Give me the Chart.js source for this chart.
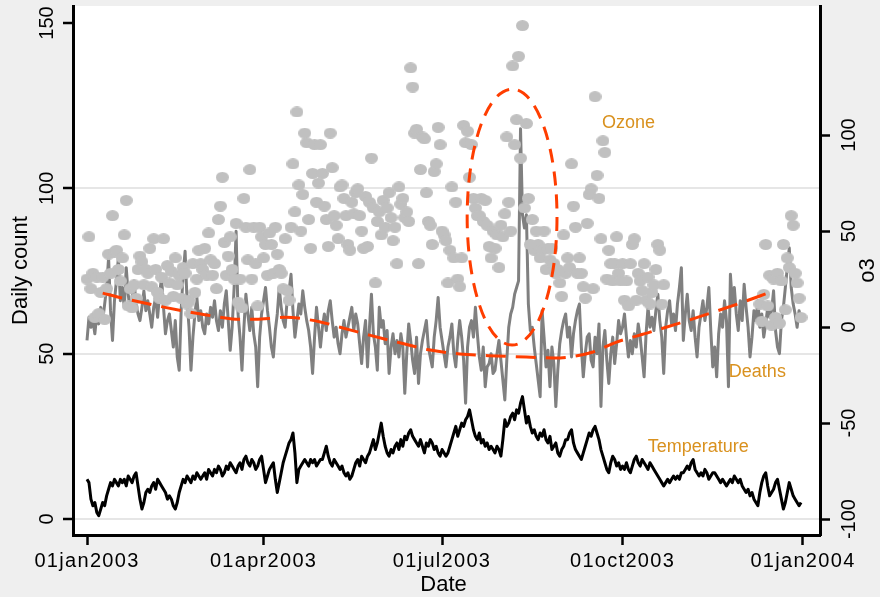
<!DOCTYPE html>
<html><head><meta charset="utf-8">
<script src="https://cdn.jsdelivr.net/npm/chart.js@4.4.1/dist/chart.umd.min.js"></script>
<style>html,body{margin:0;padding:0;background:#efefef;}canvas{display:block;}</style>
</head><body>
<canvas id="c" width="880" height="597"></canvas>
<script>
// ---- axis ticks ----
const tickDays = [0, 90, 181, 273, 365];
const tickLabels = ['01jan2003', '01apr2003', '01jul2003', '01oct2003', '01jan2004'];
const leftTicks = [0, 50, 100, 150];
const rightTicks = [-100, -50, 0, 50, 100];

// ---- daily deaths (day 0 = 01jan2003) ----
const deaths = [
54,61,58,60,56,62,59,64,60,65,70,79,63,54,66,72,79,66,70,64,76,68,63,67,72,65,62,60,64,69,63,
66,62,58,64,67,61,68,73,64,56,60,62,57,52,60,49,45,63,74,81,66,58,45,55,62,67,60,63,
58,56,62,59,64,61,66,60,57,63,58,65,69,60,51,58,70,87,62,55,45,58,68,62,57,64,56,52,40,55,62,
66,70,63,58,52,49,57,62,70,64,60,58,66,69,74,63,55,60,65,62,69,64,60,57,52,44,55,64,58,52,
58,62,57,63,66,60,55,58,53,50,56,60,55,58,61,64,57,62,59,53,47,55,60,46,58,68,56,52,45,64,58,
60,53,57,44,52,56,50,54,49,56,52,38,50,59,54,48,44,55,41,50,54,57,60,52,49,46,55,60,67,58,
54,50,46,52,55,59,50,46,54,60,55,48,35,52,58,60,55,64,56,49,45,52,40,46,47,50,44,45,50,54,48,
42,36,48,58,62,64,68,70,72,118,92,88,92,65,57,58,52,47,42,37,63,55,46,51,40,52,47,34,45,53,57,
60,62,55,58,49,56,60,63,65,52,43,50,55,56,48,46,55,50,59,34,52,57,48,41,50,55,47,53,60,56,
58,62,55,49,54,50,56,52,59,55,49,43,56,64,58,61,57,63,68,60,55,44,58,63,66,59,62,57,65,70,76,
54,62,68,60,57,63,55,49,58,62,66,60,64,70,57,46,52,43,56,62,58,66,60,40,74,65,70,62,57,66,
60,71,64,58,49,55,63,60,66,58,62,55,59,64,61,63,69,57,52,50,60,64,70,76,82,70,65,62,58,63,60
];

// ---- daily temperature ----
const temperature = [
12,11,6,4,5,2,1,3,5,4,7,9,11,10,12,11,10,12,11,12,10,13,12,11,13,14,10,6,3,5,8,
9,8,10,11,9,12,11,10,9,8,6,7,6,4,3,5,8,10,12,11,13,12,11,13,12,14,13,12,
13,14,12,15,14,13,15,14,16,15,13,14,16,15,17,16,15,14,16,17,15,18,19,17,16,18,17,15,16,18,19,
15,11,13,15,16,17,12,8,11,14,17,19,21,23,24,26,20,11,15,16,17,18,17,16,18,17,18,16,17,18,
18,20,22,19,17,16,18,17,16,15,16,14,13,14,12,13,15,17,18,16,19,18,17,19,20,22,24,21,23,26,29,
25,22,20,19,21,20,22,23,21,24,22,25,24,26,27,25,24,23,22,24,22,20,23,22,24,23,21,22,20,19,
21,20,19,20,22,24,26,28,25,27,29,28,30,31,33,30,27,25,24,26,23,24,22,23,21,22,21,20,22,21,19,
24,30,28,29,31,32,30,33,32,35,37,33,29,31,28,26,27,25,24,26,25,27,24,23,25,21,22,23,20,19,21,
22,24,24,26,27,23,21,20,19,18,20,22,24,26,25,27,28,26,24,21,19,17,15,14,17,19,18,16,17,15,
16,15,17,15,14,16,18,19,17,16,18,17,16,15,17,16,15,14,13,12,11,10,11,12,11,12,13,12,13,12,14,
14,15,16,15,17,18,15,14,13,14,13,15,14,12,13,14,14,13,12,11,12,11,10,11,12,11,13,12,11,12,
10,9,8,9,7,8,6,5,4,8,11,13,14,10,7,8,9,11,12,9,6,3,5,8,11,9,7,6,5,4,5
];

// ---- daily ozone (o3, right axis); null = missing ----
const ozone = [
25,47,20,28,5,26,7,18,26,4,20,38,28,58,39,40,30,24,36,48,66,11,20,10,22,15,30,37,34,22,30,
28,41,21,46,30,18,15,26,46,14,32,23,29,16,36,22,27,15,31,28,12,14,7,33,18,25,40,33,
30,41,27,49,35,27,33,20,56,63,78,44,27,37,47,30,25,54,13,25,10,67,52,35,82,25,52,33,11,52,47,
36,43,27,49,43,28,52,38,30,28,20,46,19,14,52,85,60,112,74,50,69,101,96,56,41,80,95,65,75,95,
80,63,56,42,101,83,58,53,46,73,74,67,58,43,40,65,59,70,72,58,50,41,68,42,65,88,62,23,55,60,48,
66,52,62,70,57,45,52,33,73,64,67,57,60,55,135,125,101,103,33,82,99,98,70,55,53,43,81,85,104,95,
50,48,45,23,40,73,36,65,25,21,36,105,96,102,78,95,67,62,58,58,67,55,66,53,42,36,50,41,48,31,53,
47,59,99,65,50,136,95,108,141,88,157,62,106,67,43,56,40,50,43,36,40,50,30,41,35,41,33,28,30,23,16,
48,28,36,31,85,63,52,28,36,28,21,15,54,69,72,20,120,79,67,46,97,91,25,40,33,24,33,47,28,24,
33,14,24,11,33,43,46,14,28,24,19,33,14,26,12,18,22,30,43,40,12,22,null,null,null,null,null,null,null,null,null,
null,null,null,null,null,null,null,null,null,null,null,null,null,null,null,null,null,null,null,null,null,null,null,null,null,null,null,null,null,null,
null,null,null,null,null,null,null,null,null,12,3,17,43,11,27,1,25,5,28,2,24,43,9,36,31,58,53,28,23,15,5
];

// ---- smooth trend of deaths (red dashed) ----
const trendDays = [8, 18, 34, 52, 64, 74, 86, 96, 101, 119, 129, 144, 160, 175, 190, 209, 224, 238, 246, 258, 270, 287, 304, 318, 333, 347];
const trendVals = [68.3, 66.8, 64.7, 62.6, 61.4, 60.5, 60.4, 60.8, 61.0, 59.6, 58.0, 55.6, 53.2, 51.1, 49.9, 49.3, 49.0, 48.7, 49.0, 50.5, 53.5, 56.5, 59.6, 62.3, 65.3, 68.3];

// ---- highlighted heat-wave ellipse (day range, daily-count range) ----
const ellipseDays = [193.8, 239.6];
const ellipseVals = [52.6, 130.0];

// ---- text notes ----
const noteText = ['Ozone', 'Deaths', 'Temperature'];
const noteDays = [262.5, 327.2, 285.9];
const noteVals = [118.2, 42.9, 20.3];

const FONT = "'Liberation Sans', Arial, Helvetica, sans-serif";
const RED = '#ff3d00';
const ORANGE = '#d9911e';

const dot = document.createElement('canvas');
dot.width = 13; dot.height = 11;
(function(){ const g = dot.getContext('2d'); g.fillStyle = '#c0c0c0'; g.beginPath(); g.ellipse(6.5,5.5,6.5,5.5,0,0,Math.PI*2); g.fill(); })();

const decor = {
  id: 'decor',
  beforeDraw(chart) {
    const {ctx, chartArea: a} = chart;
    ctx.save();
    ctx.fillStyle = '#efefef'; ctx.fillRect(0, 0, chart.width, chart.height);
    ctx.fillStyle = '#ffffff'; ctx.fillRect(a.left, a.top, a.right - a.left, a.bottom - a.top);
    ctx.restore();
    ctx.letterSpacing = '1.3px';   // wider Stata-like spacing for the date tick labels
  },
  afterDatasetsDraw(chart) {
    const {ctx, scales: {x, y}} = chart;
    const x0 = x.getPixelForValue(ellipseDays[0]), x1 = x.getPixelForValue(ellipseDays[1]);
    const y0 = y.getPixelForValue(ellipseVals[0]), y1 = y.getPixelForValue(ellipseVals[1]);
    ctx.save();
    ctx.strokeStyle = RED; ctx.lineWidth = 3; ctx.setLineDash([14, 9]);
    ctx.beginPath();
    ctx.ellipse((x0 + x1) / 2, (y0 + y1) / 2, Math.abs(x1 - x0) / 2, Math.abs(y1 - y0) / 2, 0, 0, Math.PI * 2);
    ctx.stroke();
    ctx.restore();
    ctx.save();
    ctx.letterSpacing = '0px';
    ctx.fillStyle = ORANGE; ctx.font = '18px ' + FONT; ctx.textAlign = 'left'; ctx.textBaseline = 'alphabetic';
    noteText.forEach((t, i) => ctx.fillText(t, x.getPixelForValue(noteDays[i]), y.getPixelForValue(noteVals[i])));
    ctx.restore();
  },
  afterDraw(chart) {
    const {ctx, chartArea: a, scales: {y, y2}} = chart;
    ctx.letterSpacing = '0px';
    const rot = (txt, px, py, size) => {
      ctx.save(); ctx.translate(px, py); ctx.rotate(-Math.PI / 2);
      ctx.font = size + 'px ' + FONT; ctx.fillStyle = '#000';
      ctx.textAlign = 'center'; ctx.textBaseline = 'alphabetic';
      ctx.fillText(txt, 0, 0); ctx.restore();
    };
    leftTicks.forEach(v => rot(String(v), 53, y.getPixelForValue(v), 20));
    rightTicks.forEach(v => rot(String(v), 855, y2.getPixelForValue(v), 20));
    const midY = (a.top + a.bottom) / 2;
    rot('Daily count', 27, midY, 22);
    rot('o3', 874, midY, 22);
    ctx.save(); ctx.font = '22px ' + FONT; ctx.fillStyle = '#000'; ctx.textAlign = 'center'; ctx.textBaseline = 'alphabetic';
    ctx.fillText('Date', (a.left + a.right) / 2 - 3, 591); ctx.restore();
  }
};

const pts = arr => arr.map((v, i) => ({x: i, y: v}));

new Chart(document.getElementById('c'), {
  type: 'line',
  data: {
    datasets: [
      {label: 'Trend', data: trendDays.map((d, i) => ({x: d, y: trendVals[i]})), yAxisID: 'y',
       borderColor: RED, borderWidth: 3, borderDash: [20, 10], pointRadius: 0, cubicInterpolationMode: 'monotone', order: 0},
      {label: 'Ozone', type: 'scatter', data: pts(ozone), yAxisID: 'y2', showLine: false,
       pointStyle: dot, pointRadius: 6, backgroundColor: '#c0c0c0', borderWidth: 0, order: 1},
      {label: 'Deaths', data: pts(deaths), yAxisID: 'y', borderColor: '#808080', borderWidth: 3,
       pointRadius: 0, tension: 0, borderJoinStyle: 'round', order: 2},
      {label: 'Temperature', data: pts(temperature), yAxisID: 'y', borderColor: '#000000', borderWidth: 3,
       pointRadius: 0, tension: 0, borderJoinStyle: 'round', order: 3}
    ]
  },
  options: {
    responsive: false, animation: false, devicePixelRatio: 1,
    layout: {padding: {top: 6, left: 0, right: 0, bottom: 0}},
    plugins: {legend: {display: false}, tooltip: {enabled: false}},
    scales: {
      x: {
        type: 'linear', position: 'bottom', min: -7.14, max: 373.67,
        afterBuildTicks: s => { s.ticks = tickDays.map(v => ({value: v})); },
        afterFit: s => { s.height = 62; },
        ticks: {callback: (v, i) => tickLabels[i], font: {family: FONT, size: 20}, color: '#000',
                padding: 4, minRotation: 0, maxRotation: 0, autoSkip: false},
        grid: {drawOnChartArea: false, drawTicks: true, tickLength: 10, tickWidth: 2.5, tickColor: '#000'},
        border: {display: true, color: '#000', width: 3}
      },
      y: {
        type: 'linear', position: 'left', min: -4.84, max: 155.14,
        afterBuildTicks: s => { s.ticks = leftTicks.map(v => ({value: v})); },
        afterFit: s => { s.width = 73; },
        ticks: {display: false},
        grid: {drawOnChartArea: true, color: c => (c.tick && c.tick.value === 150) ? 'rgba(0,0,0,0)' : '#e6e6e6',
               lineWidth: 2, drawTicks: true, tickLength: 10, tickWidth: 2.5, tickColor: '#000'},
        border: {display: true, color: '#000', width: 3}
      },
      y2: {
        type: 'linear', position: 'right', min: -108.3, max: 167.2,
        afterBuildTicks: s => { s.ticks = rightTicks.map(v => ({value: v})); },
        afterFit: s => { s.width = 60; },
        ticks: {display: false},
        grid: {drawOnChartArea: false, drawTicks: true, tickLength: 10, tickWidth: 2.5, tickColor: '#000'},
        border: {display: true, color: '#000', width: 3}
      }
    }
  },
  plugins: [decor]
});
</script>
</body></html>
